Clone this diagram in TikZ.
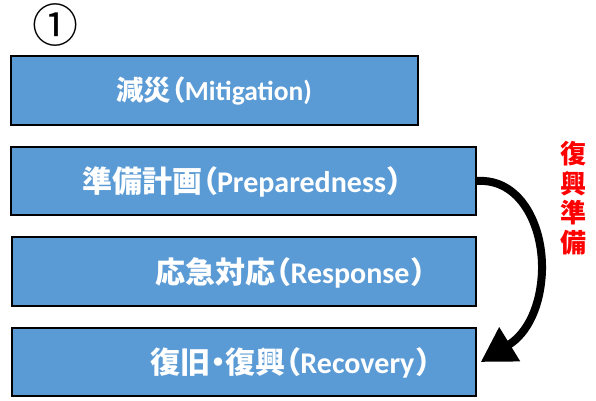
\documentclass[tikz,border=0pt]{standalone}
\usepackage{fontspec}
\setmainfont{Carlito}
\newfontfamily\jp{Noto Sans CJK JP}
\newfontfamily\jpp{Noto Sans CJK JP}[RawFeature=+palt]
\usetikzlibrary{arrows.meta}
\definecolor{boxblue}{HTML}{5B9BD5}
\tikzset{
  phase/.style={draw=black, line width=1.5pt, fill=boxblue, inner sep=0pt, anchor=center},
  phasetext/.style={text=white, font=\fontsize{30}{32}\selectfont\bfseries, inner sep=0pt},
  bigarrow/.style={line width=8pt, -{Triangle[length=34pt,width=38pt]}}
}
\newcommand{\lp}{{\jpp\bfseries （}}
\newcommand{\rp}{{\jpp\bfseries \kern2pt）}}
\begin{document}
\begin{tikzpicture}[x=1pt,y=-1pt]
\useasboundingbox (0,0) rectangle (596,400);
\node[font=\jp\fontsize{46}{46}\selectfont, inner sep=0pt] (num) at (55,25) {①};
\node[phase, minimum width=407pt, minimum height=69pt] (b1) at (214.5,90.5) {};
\node[phase, minimum width=465pt, minimum height=68pt] (b2) at (243.5,181) {};
\node[phase, minimum width=464pt, minimum height=69pt] (b3) at (244,271.5) {};
\node[phase, minimum width=464pt, minimum height=68pt] (b4) at (244,362) {};
\node[phasetext, font=\fontsize{27.5}{30}\selectfont\bfseries] (t1) at (214,91) {{\jp\bfseries 減災}\lp Mitigation)};
\node[phasetext] (t2) at (242.5,182) {{\jp\bfseries 準備計画}\lp Preparedness\rp};
\node[phasetext] (t3) at (291,273) {{\jp\bfseries 応急対応}\lp Response\rp};
\node[phasetext] (t4) at (291,363) {{\jp\bfseries 復旧}{\jpp\bfseries ・}{\jp\bfseries 復興}\lp Recovery\rp};
\node[text=red, font=\jp\bfseries\fontsize{26}{29.5}\selectfont, align=center, inner sep=0pt] (rp) at (573,198) {復\\興\\準\\備};
\coordinate (m) at (542,270);
\draw[bigarrow] (b2.east) .. controls (520,178) and (543,225) .. (m) .. controls (541,305) and (528,333) .. ([xshift=4pt]b4.east);
\end{tikzpicture}
\end{document}
